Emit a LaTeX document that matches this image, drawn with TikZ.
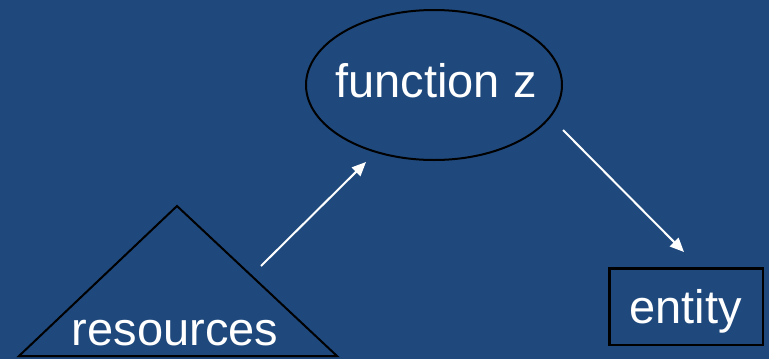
\documentclass[tikz,border=0pt]{standalone}
\usepackage{fontspec}
\setmainfont{Liberation Sans}
\usetikzlibrary{shapes.geometric,arrows.meta}

\definecolor{slide}{HTML}{1F497D}

\tikzset{
	txt/.style={text=white, font=\fontsize{47}{56}\selectfont, inner sep=0pt, anchor=base},
	outline/.style={draw=black, line width=2pt},
	flow/.style={draw=white, line width=2pt, -{Triangle[length=14pt,width=12pt]}}
}

\begin{document}
\begin{tikzpicture}[x=1pt,y=-1pt]
	\fill[slide] (0,0) rectangle (769,359);
	\useasboundingbox (0,0) rectangle (769,359);

	\node[ellipse, outline, minimum width=256pt, minimum height=150pt, inner sep=0pt] (fun) at (434,85) {};
	\node[txt] (funtext) at (436,97) {function z};

	\draw[outline, line join=miter] (177,206) -- (337,356) -- (19,356) -- cycle;
	\node[txt] (restext) at (175,345) {resources};

	\node[rectangle, outline, line width=2.5pt, minimum width=153.5pt, minimum height=76.5pt, inner sep=0pt] (ent) at (686,306.5) {};
	\node[txt] (enttext) at (685.5,323) {entity};

	\coordinate (resout) at (261,266);
	\coordinate (funin) at (366,162);
	\coordinate (funout) at (563,130);
	\coordinate (entin) at (684,252);

	\draw[flow] (resout) -- (funin);
	\draw[flow] (funout) -- (entin);
\end{tikzpicture}
\end{document}
